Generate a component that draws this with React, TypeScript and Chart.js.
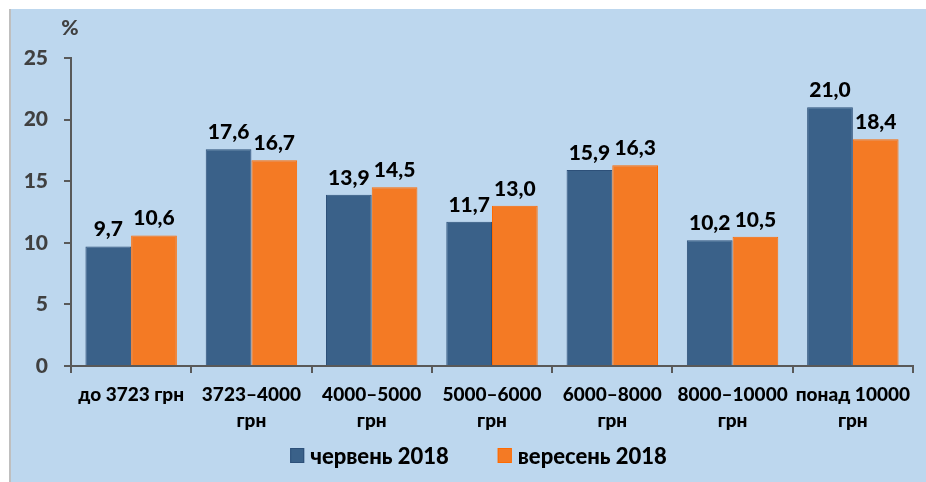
import React, { useEffect, useRef } from 'react';
import { Chart, registerables } from 'chart.js';

Chart.register(...registerables);

const categories: (string | string[])[] = [
  'до 3723 грн',
  ['3723–4000', 'грн'],
  ['4000–5000', 'грн'],
  ['5000–6000', 'грн'],
  ['6000–8000', 'грн'],
  ['8000–10000', 'грн'],
  ['понад 10000', 'грн'],
];

const june2018 = [9.7, 17.6, 13.9, 11.7, 15.9, 10.2, 21.0];
const september2018 = [10.6, 16.7, 14.5, 13.0, 16.3, 10.5, 18.4];

const seriesLabels = ['червень 2018', 'вересень 2018'];
const yTicks = { min: 0, max: 25, step: 5 };
const unitLabel = '%';

const FONT = 'Lato, "Open Sans", sans-serif';
const W = '900';

const extrasPlugin = {
  id: 'extras',
  afterDatasetsDraw(chart: any) {
    const ctx = chart.ctx;
    ctx.save();
    ctx.font = `${W} 21px ${FONT}`;
    ctx.fillStyle = '#000000';
    ctx.textAlign = 'center';
    ctx.textBaseline = 'alphabetic';
    chart.data.datasets.forEach((ds: any, di: number) => {
      const meta = chart.getDatasetMeta(di);
      meta.data.forEach((bar: any, i: number) => {
        const v = ds.data[i] as number;
        ctx.fillText(v.toFixed(1).replace('.', ','), bar.x, bar.y - 10);
      });
    });
    ctx.restore();
  },
  afterDraw(chart: any) {
    const ctx = chart.ctx;
    const area = chart.chartArea;
    ctx.save();
    ctx.font = `${W} 21px ${FONT}`;
    ctx.fillStyle = '#404040';
    ctx.textAlign = 'center';
    ctx.textBaseline = 'middle';
    ctx.fillText(unitLabel, area.left - 1, 19);

    ctx.font = `${W} 22px ${FONT}`;
    const boxW = 14;
    const boxH = 15;
    const gapBoxText = 6;
    const gapItems = 49;
    const items = chart.data.datasets.map((ds: any) => ({
      text: ds.label,
      fill: ds.backgroundColor,
      stroke: ds.borderColor,
      w: ctx.measureText(ds.label).width,
    }));
    const total = items.reduce((s: number, it: any) => s + boxW + gapBoxText + it.w, 0) + gapItems * (items.length - 1);
    let x = 467.5 - total / 2;
    const cy = 446.5;
    ctx.textAlign = 'left';
    ctx.textBaseline = 'middle';
    items.forEach((it: any) => {
      ctx.fillStyle = it.fill;
      ctx.fillRect(x, cy - boxH / 2, boxW, boxH);
      ctx.strokeStyle = it.stroke;
      ctx.lineWidth = 1;
      ctx.strokeRect(x + 0.5, cy - boxH / 2 + 0.5, boxW - 1, boxH - 1);
      ctx.fillStyle = '#000000';
      ctx.fillText(it.text, x + boxW + gapBoxText, cy + 1);
      x += boxW + gapBoxText + it.w + gapItems;
    });
    ctx.restore();
  },
};

function BarChart() {
  const ref = useRef<HTMLCanvasElement | null>(null);
  useEffect(() => {
    if (!ref.current) return;
    const chart = new Chart(ref.current, {
      type: 'bar',
      data: {
        labels: categories,
        datasets: [
          {
            label: seriesLabels[0],
            data: june2018,
            backgroundColor: '#3A6189',
            borderColor: '#2D5079',
            borderWidth: 1,
            categoryPercentage: 0.76,
            barPercentage: 1,
          },
          {
            label: seriesLabels[1],
            data: september2018,
            backgroundColor: '#F47A24',
            borderColor: '#FF6A00',
            borderWidth: 1,
            categoryPercentage: 0.76,
            barPercentage: 1,
          },
        ],
      },
      options: {
        animation: false,
        responsive: false,
        maintainAspectRatio: false,
        layout: { padding: { left: 10, right: 13, top: 49, bottom: 50 } },
        plugins: {
          legend: { display: false },
          tooltip: { enabled: false },
          title: { display: false },
        },
        scales: {
          x: {
            grid: {
              display: true,
              drawOnChartArea: false,
              drawTicks: true,
              tickLength: 7,
              color: '#595959',
              lineWidth: 2,
              offset: true,
            },
            border: { display: true, color: '#595959', width: 2 },
            ticks: {
              color: '#000000',
              font: { family: FONT, size: 19, weight: W, lineHeight: 1.35 },
              padding: 9,
              maxRotation: 0,
              autoSkip: false,
            },
            afterFit(scale: any) {
              scale.height = 66;
            },
          },
          y: {
            min: yTicks.min,
            max: yTicks.max,
            grid: {
              display: true,
              drawOnChartArea: false,
              drawTicks: true,
              tickLength: 7,
              color: '#595959',
              lineWidth: 2,
            },
            border: { display: true, color: '#595959', width: 2 },
            ticks: {
              stepSize: yTicks.step,
              color: '#404040',
              font: { family: FONT, size: 21, weight: W },
              padding: 16,
            },
            afterFit(scale: any) {
              scale.width = 50;
            },
          },
        },
      },
      plugins: [extrasPlugin],
    });
    return () => chart.destroy();
  }, []);
  return <canvas ref={ref} width={915} height={473} style={{ display: 'block', width: 915, height: 473 }} />;
}

export default function App() {
  return (
    <div style={{ position: 'fixed', left: 0, top: 0, width: 926, height: 482, background: '#ffffff', overflow: 'hidden' }}>
      <div
        style={{
          position: 'absolute',
          left: 9,
          top: 9,
          width: 917,
          height: 473,
          background: '#BDD7EE',
          borderLeft: '2px solid #BFBFBF',
          boxSizing: 'border-box',
        }}
      >
        <div style={{ position: 'absolute', left: 0, top: 0 }}>
          <BarChart />
        </div>
      </div>
    </div>
  );
}
